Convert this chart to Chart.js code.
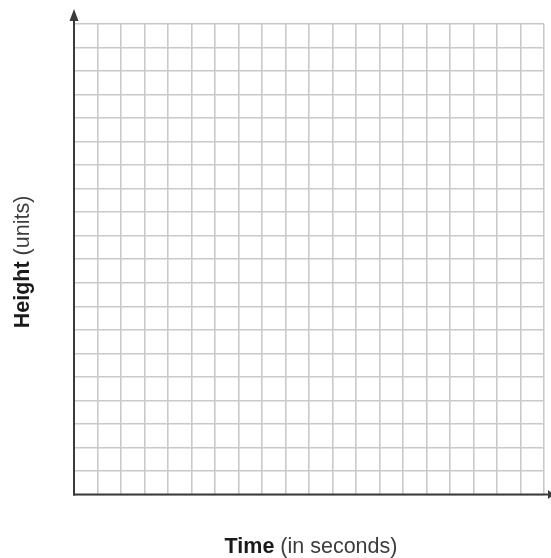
<!DOCTYPE html>
<html>
<head>
<meta charset="utf-8">
<script src="https://cdn.jsdelivr.net/npm/chart.js@4/dist/chart.umd.min.js"></script>
<style>
  html, body { margin: 0; padding: 0; background: #ffffff; }
  #wrap { width: 551px; height: 558px; position: relative; }
</style>
</head>
<body>
<div id="wrap"><canvas id="c" width="551" height="558"></canvas></div>
<script>
// Data (blank graph: no plotted values)
const timeTicks = [0, 1, 2, 3, 4, 5, 6, 7, 8, 9, 10, 11, 12, 13, 14, 15, 16, 17, 18, 19, 20];
const heightTicks = [0, 1, 2, 3, 4, 5, 6, 7, 8, 9, 10, 11, 12, 13, 14, 15, 16, 17, 18, 19, 20];
const heightValues = [];
const xTitleBold = "Time";
const xTitleRest = " (in seconds)";
const yTitleBold = "Height";
const yTitleRest = " (units)";

const FONT = "'Liberation Sans', Arial, sans-serif";
const AXIS_COLOR = "#3a3a3a";
const TITLE_SIZE = 21.5;

function drawTitle(ctx, bold, rest, size) {
  ctx.font = "bold " + size + "px " + FONT;
  const wb = ctx.measureText(bold).width;
  ctx.font = size + "px " + FONT;
  const wr = ctx.measureText(rest).width;
  const total = wb + wr;
  ctx.textAlign = "left";
  ctx.textBaseline = "alphabetic";
  ctx.fillStyle = "#1a1a1a";
  ctx.font = "bold " + size + "px " + FONT;
  ctx.fillText(bold, -total / 2, 0);
  ctx.fillStyle = "#3c3c3c";
  ctx.font = size + "px " + FONT;
  ctx.fillText(rest, -total / 2 + wb, 0);
}

const axesPlugin = {
  id: "axesPlugin",
  afterDraw(chart) {
    const ctx = chart.ctx;
    const a = chart.chartArea;
    ctx.save();
    ctx.strokeStyle = AXIS_COLOR;
    ctx.fillStyle = AXIS_COLOR;
    ctx.lineWidth = 2;
    // y axis
    ctx.beginPath();
    ctx.moveTo(a.left, a.bottom + 1);
    ctx.lineTo(a.left, 16);
    ctx.stroke();
    ctx.beginPath();
    ctx.moveTo(a.left, 9);
    ctx.lineTo(a.left - 4.5, 21);
    ctx.lineTo(a.left + 4.5, 21);
    ctx.closePath();
    ctx.fill();
    // x axis
    ctx.beginPath();
    ctx.moveTo(a.left - 1, a.bottom);
    ctx.lineTo(551, a.bottom);
    ctx.stroke();
    ctx.beginPath();
    ctx.moveTo(554, a.bottom);
    ctx.lineTo(548, a.bottom - 4.5);
    ctx.lineTo(548, a.bottom + 4.5);
    ctx.closePath();
    ctx.fill();
    // titles
    ctx.save();
    ctx.translate(311, 553);
    drawTitle(ctx, xTitleBold, xTitleRest, TITLE_SIZE);
    ctx.restore();
    ctx.save();
    ctx.translate(29, 262);
    ctx.rotate(-Math.PI / 2);
    drawTitle(ctx, yTitleBold, yTitleRest, TITLE_SIZE);
    ctx.restore();
    ctx.restore();
  }
};

new Chart(document.getElementById("c"), {
  type: "scatter",
  data: {
    datasets: [{
      label: "Height",
      data: heightValues,
      showLine: false
    }]
  },
  options: {
    responsive: false,
    animation: false,
    events: [],
    layout: { padding: { left: 74, right: 7, top: 24, bottom: 63.5 } },
    plugins: { legend: { display: false }, tooltip: { enabled: false } },
    scales: {
      x: {
        type: "linear",
        min: timeTicks[0],
        max: timeTicks[timeTicks.length - 1],
        afterBuildTicks: (s) => { s.ticks = timeTicks.map(v => ({ value: v })); },
        ticks: { display: false },
        border: { display: false },
        grid: { color: "#c9c9c9", lineWidth: 1.6, drawTicks: false }
      },
      y: {
        type: "linear",
        min: heightTicks[0],
        max: heightTicks[heightTicks.length - 1],
        afterBuildTicks: (s) => { s.ticks = heightTicks.map(v => ({ value: v })); },
        ticks: { display: false },
        border: { display: false },
        grid: { color: "#c9c9c9", lineWidth: 1.6, drawTicks: false }
      }
    }
  },
  plugins: [axesPlugin]
});
</script>
</body>
</html>
